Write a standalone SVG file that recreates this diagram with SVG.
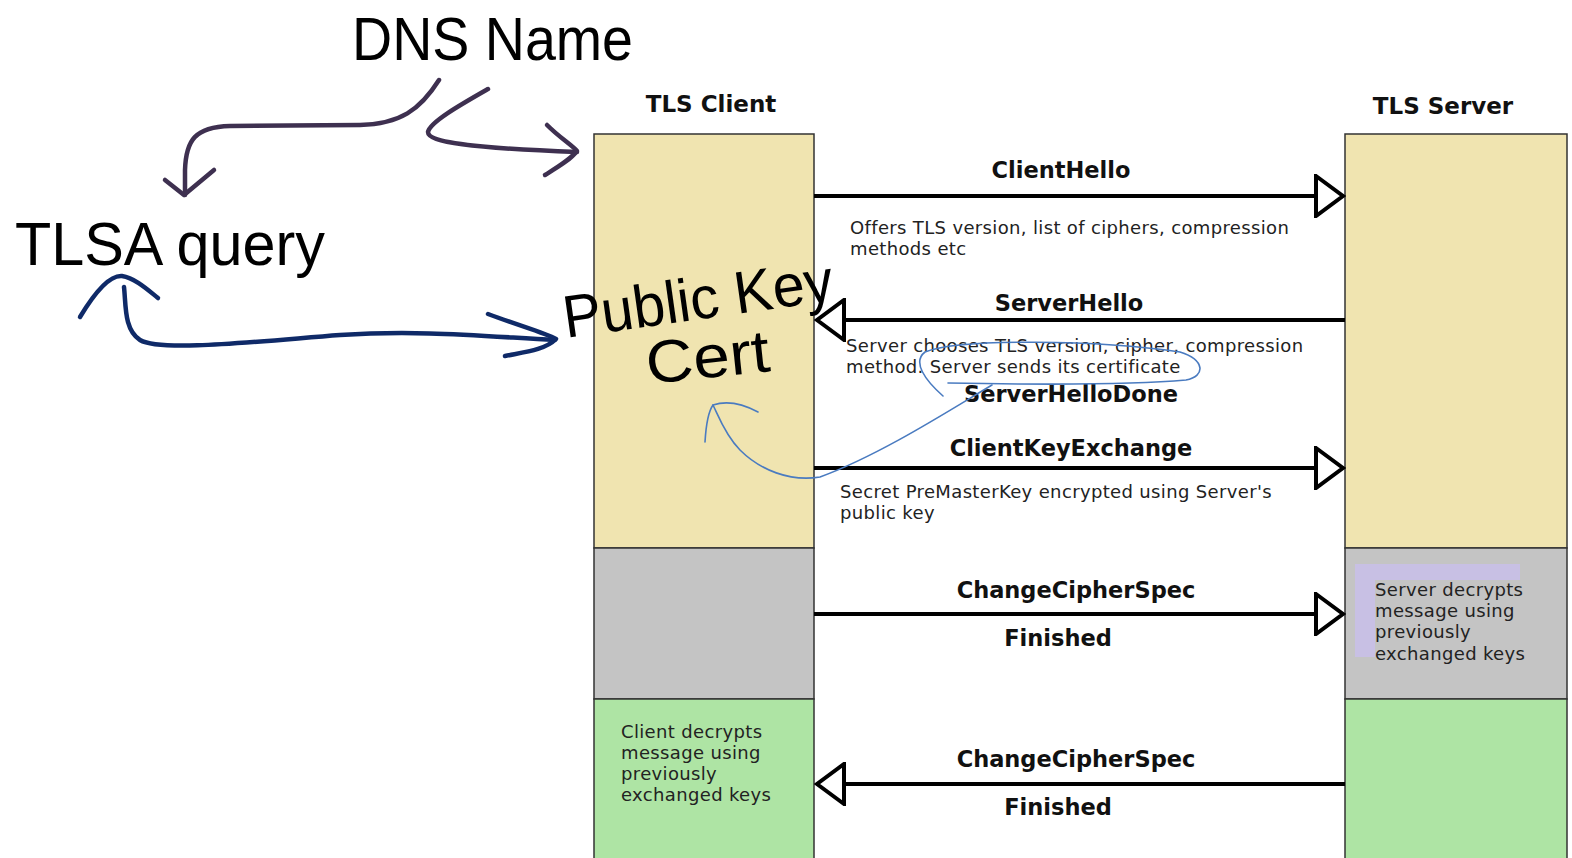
<svg xmlns="http://www.w3.org/2000/svg" width="1572" height="858" viewBox="0 0 1572 858">
<style>
.col{stroke:#333;stroke-width:1.5}
.tan{fill:#F0E4B0}.gray{fill:#C4C4C4}.green{fill:#AEE4A4}
.title{font-family:"DejaVu Sans",Verdana,sans-serif;font-weight:bold;font-size:23px;fill:#111}
.msg{font-family:"DejaVu Sans",Verdana,sans-serif;font-weight:bold;font-size:22.5px;fill:#111;text-anchor:middle}
.desc{font-family:"DejaVu Sans",Verdana,sans-serif;font-size:18px;letter-spacing:0.35px;fill:#222}
.line{stroke:#000;stroke-width:4;fill:none}
.hand{font-family:"Liberation Sans",Arial,sans-serif;fill:#000}
.purp{stroke:#3E3050;stroke-width:4.5;fill:none;stroke-linecap:round;stroke-linejoin:round}
.navy{stroke:#0F2A68;stroke-width:4.5;fill:none;stroke-linecap:round;stroke-linejoin:round}
.thin{stroke:#4A7BC0;stroke-width:1.6;fill:none;stroke-linecap:round}
</style>
<defs>
<marker id="tri" viewBox="0 0 32 44" refX="29" refY="22" markerWidth="32" markerHeight="44" markerUnits="userSpaceOnUse" orient="auto">
<path d="M2,2 L29,22 L2,42 Z" fill="#fff" stroke="#000" stroke-width="4"/>
</marker>
</defs>
<rect width="1572" height="858" fill="#fff"/>

<g id="client">
<text class="title" x="711" y="112" text-anchor="middle">TLS Client</text>
<rect class="col tan" x="594" y="134" width="220" height="414"/>
<rect class="col gray" x="594" y="548" width="220" height="151"/>
<rect class="col green" x="594" y="699" width="220" height="165"/>
<text class="desc" x="621" y="738">Client decrypts</text>
<text class="desc" x="621" y="759">message using</text>
<text class="desc" x="621" y="780">previously</text>
<text class="desc" x="621" y="801">exchanged keys</text>
</g>

<g id="server">
<text class="title" x="1443" y="114" text-anchor="middle">TLS Server</text>
<rect class="col tan" x="1345" y="134" width="222" height="414"/>
<rect class="col gray" x="1345" y="548" width="222" height="151"/>
<rect class="col green" x="1345" y="699" width="222" height="165"/>
<rect x="1355" y="564" width="165" height="93" fill="#C8C0E4"/>
<rect x="1375" y="580" width="170" height="90" fill="#C4C4C4"/>
<text class="desc" x="1375" y="596">Server decrypts</text>
<text class="desc" x="1375" y="617">message using</text>
<text class="desc" x="1375" y="638">previously</text>
<text class="desc" x="1375" y="660">exchanged keys</text>
</g>

<g id="connectors">
<line class="line" x1="814" y1="196" x2="1343" y2="196" marker-end="url(#tri)"/>
<line class="line" x1="1345" y1="320" x2="817" y2="320" marker-end="url(#tri)"/>
<line class="line" x1="814" y1="468" x2="1343" y2="468" marker-end="url(#tri)"/>
<line class="line" x1="814" y1="614" x2="1343" y2="614" marker-end="url(#tri)"/>
<line class="line" x1="1345" y1="784" x2="817" y2="784" marker-end="url(#tri)"/>
</g>

<g id="messages">
<text class="msg" x="1061" y="178">ClientHello</text>
<text class="desc" x="850" y="234">Offers TLS version, list of ciphers, compression</text>
<text class="desc" x="850" y="255">methods etc</text>
<text class="msg" x="1069" y="311">ServerHello</text>
<text class="desc" x="846" y="352">Server chooses TLS version, cipher, compression</text>
<text class="desc" x="846" y="373">method. Server sends its certificate</text>
<text class="msg" x="1071" y="402">ServerHelloDone</text>
<text class="msg" x="1071" y="456">ClientKeyExchange</text>
<text class="desc" x="840" y="498">Secret PreMasterKey encrypted using Server's</text>
<text class="desc" x="840" y="519">public key</text>
<text class="msg" x="1076" y="598">ChangeCipherSpec</text>
<text class="msg" x="1058" y="646">Finished</text>
<text class="msg" x="1076" y="767">ChangeCipherSpec</text>
<text class="msg" x="1058" y="815">Finished</text>
</g>

<g id="annotations">
<text class="hand" x="352" y="60" font-size="62" textLength="281" lengthAdjust="spacingAndGlyphs">DNS Name</text>
<text class="hand" x="15" y="265" font-size="62" textLength="310" lengthAdjust="spacingAndGlyphs">TLSA query</text>
<text class="hand" x="566" y="338" font-size="60" textLength="272" lengthAdjust="spacingAndGlyphs" transform="rotate(-8 566 338)">Public Key</text>
<text class="hand" x="648" y="384" font-size="60" textLength="124" lengthAdjust="spacingAndGlyphs" transform="rotate(-6 648 384)">Cert</text>

<path class="purp" d="M439,80 C420,110 400,124 360,125 L230,126 C195,127 186,140 185,170 L185,195"/>
<path class="purp" d="M165,180 L184,195 L214,170"/>
<path class="purp" d="M488,89 C460,105 430,122 428,132 C428,142 470,148 577,152"/>
<path class="purp" d="M547,125 C560,138 572,145 577,151 C570,160 558,167 545,175"/>

<path class="navy" d="M80,317 C95,292 110,275 122,276 C135,278 148,290 158,298"/>
<path class="navy" d="M124,287 C126,305 124,330 140,340 C160,352 250,342 340,335 C420,330 480,336 555,340"/>
<path class="navy" stroke-width="6" d="M488,314 C520,326 545,333 556,339 C545,350 525,352 505,356"/>

<path class="thin" d="M943,396 C925,380 912,362 925,352 C960,338 1100,340 1180,352 C1205,360 1206,376 1186,380 C1120,386 1000,384 948,383"/>
<path class="thin" d="M992,385 C950,410 880,455 820,477 C790,482 760,470 740,450 C725,435 718,415 713,405"/>
<path class="thin" d="M705,442 C706,425 708,412 713,405 C728,400 745,405 758,412"/>
</g>
</svg>
